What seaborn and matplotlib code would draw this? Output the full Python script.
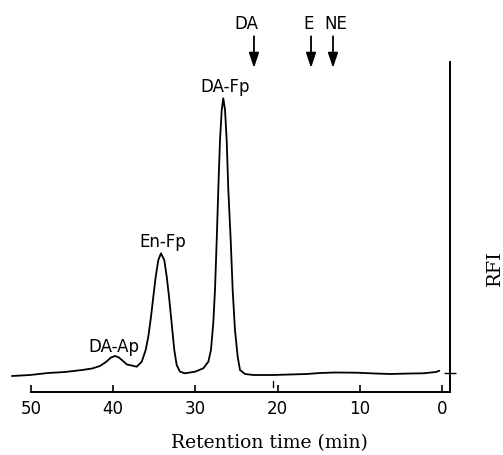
import numpy as np
import pandas as pd
import matplotlib
matplotlib.use("Agg")
import matplotlib.pyplot as plt
import seaborn as sns

# Chromatogram trace: retention time (min) and fluorescence (arb. units)
time_min = [52.31, 50.12, 47.93, 45.86, 43.79, 42.56, 41.61, 40.88, 40.27, 39.78,
            39.30, 38.81, 38.33, 37.75, 37.14, 36.53, 36.05, 35.73, 35.40, 35.12,
            34.83, 34.51, 34.19, 33.79, 33.49, 33.21, 32.89, 32.57, 32.28, 31.88,
            31.27, 30.05, 29.04, 28.43, 28.11, 27.83, 27.62, 27.41, 27.22, 27.01,
            26.80, 26.61, 26.40, 26.20, 26.00, 25.71, 25.47, 25.19, 24.86, 24.58,
            23.97, 22.96, 20.57, 18.50, 16.47, 14.85, 13.02, 10.39, 8.16, 6.34,
            3.90, 2.29, 0.74, 0.34]
rfi = [16, 17, 19, 20, 22, 23.5, 26, 30, 34.5, 36,
       34.5, 31, 27.5, 26.5, 25.3, 30.3, 42, 55.3, 75.3, 95.3,
       115.3, 132, 138.7, 132, 115.3, 95.3, 68.7, 42, 27, 20.3,
       18.7, 20.3, 23.7, 30.3, 42, 68.7, 102, 152, 202, 252,
       282, 293.7, 282, 252, 202, 152, 102, 62, 35.3, 22,
       18, 17, 17, 17.5, 18, 19, 19.5, 19.3, 18.5, 18,
       18.5, 18.7, 20, 21.3]

peak_labels = ["DA-Ap", "En-Fp", "DA-Fp"]
peak_label_time = [39.9, 34.0, 26.4]
peak_label_rfi = [45, 150, 305]

standard_labels = ["DA", "E", "NE"]
standard_time = [22.88, 15.94, 13.27]
standard_text_time = [23.85, 16.2, 12.9]

x_ticks = [50, 40, 30, 20, 10, 0]
baseline_mark = 19
small_mark_time = 20.53

df = pd.DataFrame({"t": time_min, "rfi": rfi})

sns.set_style("white", {"text.color": "black", "xtick.color": "black",
                        "ytick.color": "black", "axes.labelcolor": "black"})
fig = plt.figure(figsize=(5.03, 4.55), dpi=100)
ax = fig.add_axes([10 / 503, 63 / 455, 440 / 503, 330 / 455])

sns.lineplot(data=df, x="t", y="rfi", ax=ax, color="black", linewidth=1.3, sort=False,
             solid_joinstyle="round", solid_capstyle="round")

ax.set_xlim(52.55, -0.96)
ax.set_ylim(0, 330)

for s in ["left", "top"]:
    ax.spines[s].set_visible(False)
for s in ["bottom", "right"]:
    ax.spines[s].set_visible(True)
    ax.spines[s].set_color("black")
    ax.spines[s].set_linewidth(1.4)
ax.spines["bottom"].set_bounds(50, -0.96)

ax.set_xticks(x_ticks)
ax.set_xticklabels([str(v) for v in x_ticks], fontsize=12, family="DejaVu Sans", color="black")
ax.tick_params(axis="x", direction="in", length=5, width=1.2, color="black", pad=6, bottom=True)

ax.yaxis.tick_right()
ax.set_yticks([baseline_mark])
ax.set_yticklabels([""])
ax.tick_params(axis="y", direction="inout", length=9, width=1.0, color="black", right=True, left=False)

ax.set_xlabel("")
ax.set_ylabel("")
fig.text(269 / 503, 1 - 443 / 455, "Retention time (min)", family="DejaVu Serif",
         fontsize=13.5, ha="center", va="center", color="black")
fig.text(495 / 503, 1 - 268 / 455, "RFI", rotation=90, family="DejaVu Serif",
         fontsize=14, ha="center", va="center", color="black")

# small mark above axis
ax.plot([small_mark_time, small_mark_time], [5.5, 11.5], color="black", linewidth=1.0)

for lab, t, r in zip(peak_labels, peak_label_time, peak_label_rfi):
    ax.text(t, r, lab, fontsize=12, family="DejaVu Sans", ha="center", va="center", color="black")

for lab, t, tt in zip(standard_labels, standard_time, standard_text_time):
    ax.annotate("", xy=(t, 0.982), xycoords=("data", "axes fraction"),
                xytext=(t, 1.078), textcoords=("data", "axes fraction"),
                arrowprops=dict(arrowstyle="-|>,head_length=0.9,head_width=0.3",
                                color="black", lw=1.3, shrinkA=0, shrinkB=0),
                annotation_clip=False)
    ax.text(tt, 1.115, lab, transform=ax.get_xaxis_transform(), fontsize=12,
            family="DejaVu Sans", ha="center", va="center", clip_on=False, color="black")

fig.savefig("out.png", dpi=100)
